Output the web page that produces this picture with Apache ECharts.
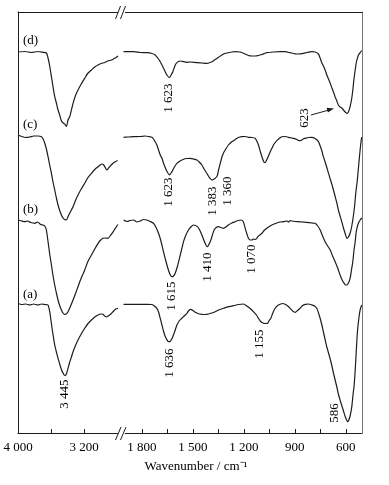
<!DOCTYPE html>
<html>
<head>
<meta charset="utf-8">
<script src="https://cdn.jsdelivr.net/npm/echarts@6/dist/echarts.min.js"></script>
<style>
  html, body { margin: 0; padding: 0; background: #fff; }
  #chart { width: 389px; height: 485px; }
</style>
</head>
<body>
<div id="chart"></div>
<script>
// IR spectra, broken wavenumber axis: [wavenumber, transmittance (a.u.)]
var dLeft = [[4000,381],[3919,381.5],[3834,380.5],[3761,381.5],[3697,380.7],[3656,380],[3636,375],[3616,367],[3595,356.3],[3576,346.3],[3555,336.3],[3535,330],[3515,323],[3495,318],[3474,312],[3452,310],[3434,309],[3413,306.5],[3394,313],[3373,316.3],[3333,329.7],[3301,338],[3273,343],[3234,349],[3192,354.7],[3156,359.5],[3110,363],[3070,366],[3030,368],[2992,369.5],[2949,370.5],[2913,372],[2868,373],[2834,374.5],[2788,377]];
var dRight = [[1908,381.3],[1849,381.3],[1810,380.5],[1771,380.3],[1741,379.5],[1722,378],[1702,374],[1692,371.3],[1673,365],[1663,361.3],[1651,357.5],[1638,355.3],[1628,358],[1618,361.3],[1607,366.5],[1598,369.7],[1575,372],[1535,370.7],[1516,371],[1476,370.3],[1447,370],[1418,369.7],[1388,371.3],[1369,373.5],[1349,375.7],[1320,379],[1300,380],[1271,381],[1251,381.3],[1222,381],[1192,379],[1173,377.5],[1153,377],[1134,377],[1114,377.5],[1094,378.5],[1065,380.3],[1026,381],[987,381.3],[957,381.3],[928,380.3],[908,379.5],[888,379],[869,379.2],[849,379.7],[829,380.5],[800,381.3],[781,381],[761,379],[751,374.7],[741,370],[732,367],[722,363],[712,358],[702,354],[692,349.7],[682,345],[673,341],[663,336.3],[653,332],[644,328],[634,326],[624,325],[614,323],[604,321],[594,319.7],[585,321],[575,326.3],[565,335],[559,343],[553,353],[545,363],[538,371],[532,374.7],[526,378],[516,380.3],[507,382.5]];

var cLeft = [[4000,298],[3955,296.5],[3907,295.5],[3858,296],[3810,297],[3758,297],[3716,296.3],[3695,294],[3676,289.7],[3656,284],[3636,276.3],[3616,268],[3595,259.7],[3576,251],[3555,243],[3535,235],[3515,228],[3495,222.5],[3474,218],[3455,215],[3434,213.5],[3413,213],[3394,216.3],[3373,220],[3333,226.3],[3301,233],[3273,238],[3234,244],[3192,249.7],[3156,255],[3110,259.7],[3070,263.5],[3030,266.3],[3004,268],[2982,269],[2961,268],[2943,265.5],[2925,263],[2907,264.5],[2889,266.3],[2849,269.7],[2816,271.5],[2792,272.5]];
var cRight = [[1908,295.7],[1881,296],[1849,296.3],[1810,296.5],[1781,297],[1761,296.5],[1741,295.7],[1728,293],[1712,288],[1702,283],[1692,278],[1682,274.7],[1673,270],[1663,265.5],[1657,263],[1647,260],[1638,258],[1628,260],[1618,263],[1607,266.5],[1594,269.7],[1575,272],[1555,273.7],[1535,274.5],[1516,274.7],[1496,274],[1476,273],[1463,271],[1447,268],[1434,264],[1418,259.7],[1407,256.5],[1398,254.5],[1388,253],[1379,253.5],[1369,254.7],[1361,256],[1355,258],[1349,263],[1339,269.7],[1329,276],[1320,280],[1310,283],[1291,288],[1271,291.3],[1251,293.5],[1232,295.5],[1212,296.3],[1192,296.5],[1173,295.7],[1153,295.5],[1134,294.7],[1124,292],[1114,288],[1104,282],[1094,276.3],[1085,272],[1079,270.3],[1072,271],[1061,274.7],[1048,280],[1035,284.7],[1022,289],[1006,292.3],[992,294.5],[977,296.3],[957,296.5],[938,295.7],[918,295],[908,294.7],[888,293.5],[879,292.5],[869,292.3],[859,293],[849,294.3],[839,294.7],[820,295.5],[800,295.7],[781,294.5],[761,291.3],[751,287],[741,282],[732,276.3],[722,271],[712,265.5],[702,259.7],[692,254],[682,248.5],[673,243],[663,236.5],[653,230],[644,223],[634,217],[624,211.3],[614,205],[604,199.5],[594,194.7],[585,196],[575,199.7],[565,207],[555,218],[548,228],[541,241],[533,252],[526,265],[519,278],[513,288],[507,296]];

var bLeft = [[4000,213],[3955,212],[3919,211.3],[3882,212],[3846,210.5],[3798,209.7],[3761,211],[3725,208.5],[3697,208],[3676,207],[3656,203],[3636,191.3],[3616,179],[3595,168],[3576,157.5],[3555,148],[3535,140],[3515,133],[3495,127.5],[3474,123],[3455,120],[3434,118.7],[3416,119],[3394,121.3],[3373,125],[3333,133],[3301,140],[3273,146.3],[3234,155],[3192,163],[3156,171],[3110,178],[3070,184],[3030,189.7],[2998,193],[2970,194.7],[2943,195],[2909,194.7],[2885,197],[2861,199.7],[2834,203],[2807,206.3],[2792,208.5]];
var bRight = [[1908,213],[1888,211.5],[1869,212.5],[1849,213],[1829,211],[1810,212],[1791,213.5],[1771,213],[1751,211.5],[1732,209.7],[1718,206],[1702,199.7],[1688,192],[1673,181.3],[1659,172],[1644,163],[1634,158.5],[1624,156.3],[1614,157],[1604,159.7],[1592,166],[1579,174.7],[1567,183],[1555,191.3],[1541,198],[1526,203],[1512,206],[1496,208],[1485,207.5],[1473,206.3],[1460,203],[1447,198],[1436,193],[1428,189.7],[1420,187],[1414,186.3],[1406,188.5],[1394,193],[1385,198],[1375,203],[1363,205.5],[1349,206.3],[1335,205.5],[1320,204.7],[1306,206],[1291,208],[1271,210],[1251,211.3],[1234,212.5],[1218,213],[1204,211.5],[1192,204.7],[1182,199],[1173,194.7],[1163,193],[1153,193],[1144,194],[1134,193.5],[1124,194.7],[1114,197],[1094,199.7],[1081,202.5],[1065,204.7],[1045,207],[1026,208.7],[1006,210],[987,211],[967,211.3],[947,212],[937,211],[928,212.5],[918,212],[898,211.5],[879,211.3],[857,211],[829,210.7],[800,210],[781,209.7],[765,207],[751,203],[737,197],[722,191.3],[707,187],[692,183],[678,177],[663,171.3],[648,165],[634,158],[622,153],[610,149.7],[601,148],[594,148],[585,150],[575,154.7],[567,163],[559,171.3],[552,183],[545,191.3],[540,200],[535,204.7],[528,209],[522,211.3],[514,213.5],[507,215]];

var aLeft = [[4000,129.5],[3955,128.5],[3907,129],[3858,128],[3810,129],[3761,128],[3713,129],[3676,128.5],[3636,128],[3616,121.3],[3601,113],[3588,105],[3571,96],[3555,88],[3535,81],[3515,74.7],[3495,69],[3474,63.5],[3455,60],[3434,57.5],[3416,58.5],[3394,64.7],[3373,71],[3353,76],[3333,81.3],[3301,88],[3273,93],[3234,99],[3192,104.7],[3156,109],[3110,113],[3070,116],[3030,118],[2998,119],[2970,118.7],[2949,117],[2928,116],[2909,117],[2889,118],[2849,121.3],[2816,124],[2788,124.7]];
var aRight = [[1908,128.7],[1869,128.7],[1810,128.7],[1771,128.7],[1741,128.5],[1726,127],[1712,124.7],[1702,121],[1692,114.7],[1682,108],[1673,102],[1665,97.5],[1655,94],[1644,91.3],[1634,91.5],[1626,93.5],[1618,96.3],[1606,102],[1594,108],[1581,112],[1565,114.7],[1551,117],[1535,119.7],[1524,122.5],[1512,123.7],[1500,122.5],[1486,120.7],[1467,119.3],[1447,118.7],[1428,118.5],[1408,119],[1388,120],[1369,121.3],[1349,123],[1320,124.7],[1291,126.3],[1261,127.3],[1232,128.5],[1202,129],[1182,127],[1163,124.5],[1144,121.3],[1124,117.5],[1114,114.7],[1101,111.5],[1085,109.7],[1072,109.5],[1061,109.7],[1051,112.5],[1041,114.7],[1031,119.5],[1016,124.7],[1001,127.5],[987,128.7],[972,129.5],[957,128.7],[942,127],[928,124.7],[913,122],[898,120.7],[884,122.5],[869,124.7],[854,127.5],[839,128.7],[820,129],[800,128],[784,127],[771,124.7],[761,120],[751,114.5],[741,108],[732,101],[722,93.5],[712,86],[702,80],[692,74],[682,67],[673,60],[663,53],[653,46],[644,39],[634,33],[624,27.5],[614,22],[604,16.5],[594,12.5],[590,11.3],[584,12.5],[575,17],[565,26.3],[558,38],[551,48],[545,63],[540,78],[535,93],[531,103],[526,111],[521,118],[516,123],[510,126.5],[506,128]];

var leftTicks = [4000, 3600, 3200];
var leftLabels = [4000, 3200];
var rightTicks = [1800, 1650, 1500, 1350, 1200, 1050, 900, 750, 600];
var rightLabels = [1800, 1500, 1200, 900, 600];

var curveNames = ['(d)', '(c)', '(b)', '(a)'];
var peakLabels = ['1 623', '623', '1 623', '1 383', '1 360', '1 615', '1 410', '1 070', '3 445', '1 636', '1 155', '586'];

var chart = echarts.init(document.getElementById('chart'), null, { renderer: 'canvas' });

var FONT = '"Liberation Serif", "Times New Roman", serif';
var INK = '#1c1c1c';

function fmt(v) {
    var s = String(v);
    return s.length > 3 ? s.slice(0, s.length - 3) + ' ' + s.slice(-3) : s;
}

function bottomAxis(grid, min, max, ticks, labels) {
    return {
        type: 'value', gridIndex: grid, min: min, max: max, inverse: true, position: 'bottom',
        axisLine: { show: true, onZero: false, lineStyle: { color: INK, width: 1 } },
        axisTick: { show: true, inside: true, length: 4, customValues: ticks, lineStyle: { color: INK } },
        axisLabel: { show: true, customValues: labels, formatter: fmt, margin: 8,
            color: '#000', fontFamily: FONT, fontSize: 13 },
        splitLine: { show: false }
    };
}
function topAxis(grid, min, max) {
    return {
        type: 'value', gridIndex: grid, min: min, max: max, inverse: true, position: 'top',
        axisLine: { show: true, onZero: false, lineStyle: { color: INK, width: 1 } },
        axisTick: { show: false }, axisLabel: { show: false }, splitLine: { show: false }
    };
}
function sideAxis(grid, pos, color) {
    return {
        type: 'value', gridIndex: grid, min: 0, max: 421, position: pos,
        axisLine: { show: true, onZero: false, lineStyle: { color: color, width: 1 } },
        axisTick: { show: false }, axisLabel: { show: false }, splitLine: { show: false }
    };
}
function spectrum(data, grid) {
    return {
        type: 'line', data: data, xAxisIndex: grid, yAxisIndex: grid,
        showSymbol: false, symbol: 'none', smooth: 0.2, silent: true,
        lineStyle: { color: INK, width: 1.2 }
    };
}

function rotText(str, x, y) {
    return { type: 'text', x: x, y: y, rotation: Math.PI / 2, silent: true,
        style: { text: str, fill: '#000', font: '13px ' + FONT, align: 'center', verticalAlign: 'middle' } };
}
function plainText(str, x, y) {
    return { type: 'text', x: x, y: y, silent: true,
        style: { text: str, fill: '#000', font: '13px ' + FONT, align: 'left', verticalAlign: 'middle' } };
}

var graphics = [
    // axis breaks
    { type: 'rect', shape: { x: 118, y: 9, width: 7, height: 6 }, style: { fill: '#fff' }, z: 100 },
    { type: 'rect', shape: { x: 118, y: 430, width: 7, height: 6 }, style: { fill: '#fff' }, z: 100 },
    { type: 'line', shape: { x1: 115.5, y1: 19, x2: 120.5, y2: 6 }, style: { stroke: INK, lineWidth: 1 }, z: 101 },
    { type: 'line', shape: { x1: 120.5, y1: 19, x2: 125.5, y2: 6 }, style: { stroke: INK, lineWidth: 1 }, z: 101 },
    { type: 'line', shape: { x1: 115.5, y1: 440, x2: 121, y2: 427 }, style: { stroke: INK, lineWidth: 1 }, z: 101 },
    { type: 'line', shape: { x1: 120.5, y1: 440, x2: 126, y2: 427 }, style: { stroke: INK, lineWidth: 1 }, z: 101 },
    // curve tags
    plainText(curveNames[0], 23, 41),
    plainText(curveNames[1], 23, 125),
    plainText(curveNames[2], 23, 210),
    plainText(curveNames[3], 23, 295),
    // peak labels
    rotText(peakLabels[0], 169, 98),
    rotText(peakLabels[1], 305, 118),
    rotText(peakLabels[2], 169, 192),
    rotText(peakLabels[3], 213, 201),
    rotText(peakLabels[4], 228, 191),
    rotText(peakLabels[5], 172, 296),
    rotText(peakLabels[6], 208, 267),
    rotText(peakLabels[7], 252, 259),
    rotText(peakLabels[8], 65, 394),
    rotText(peakLabels[9], 170, 363),
    rotText(peakLabels[10], 260, 344),
    rotText(peakLabels[11], 335, 413),
    // arrow to 623 shoulder
    { type: 'line', shape: { x1: 311, y1: 115, x2: 329, y2: 110 }, style: { stroke: INK, lineWidth: 1 } },
    { type: 'polygon', shape: { points: [[334, 108.6], [327.9, 112.6], [326.6, 107.8]] }, style: { fill: INK } },
    // axis title
    { type: 'text', x: 196, y: 467, silent: true,
      style: { text: 'Wavenumber / cm\u207B\u00B9', fill: '#000', font: '13px ' + FONT, align: 'center', verticalAlign: 'middle' } }
];

chart.setOption({
    backgroundColor: '#fff',
    animation: false,
    grid: [
        { left: 18, top: 12, width: 104, height: 421 },
        { left: 122, top: 12, width: 240, height: 421 }
    ],
    xAxis: [
        bottomAxis(0, 2740, 4000, leftTicks, leftLabels),
        bottomAxis(1, 505, 1917, rightTicks, rightLabels),
        topAxis(0, 2740, 4000),
        topAxis(1, 505, 1917)
    ],
    yAxis: [
        sideAxis(0, 'left', INK),
        sideAxis(1, 'right', '#777')
    ],
    series: [
        spectrum(dLeft, 0), spectrum(dRight, 1),
        spectrum(cLeft, 0), spectrum(cRight, 1),
        spectrum(bLeft, 0), spectrum(bRight, 1),
        spectrum(aLeft, 0), spectrum(aRight, 1)
    ],
    graphic: graphics
});
</script>
</body>
</html>
